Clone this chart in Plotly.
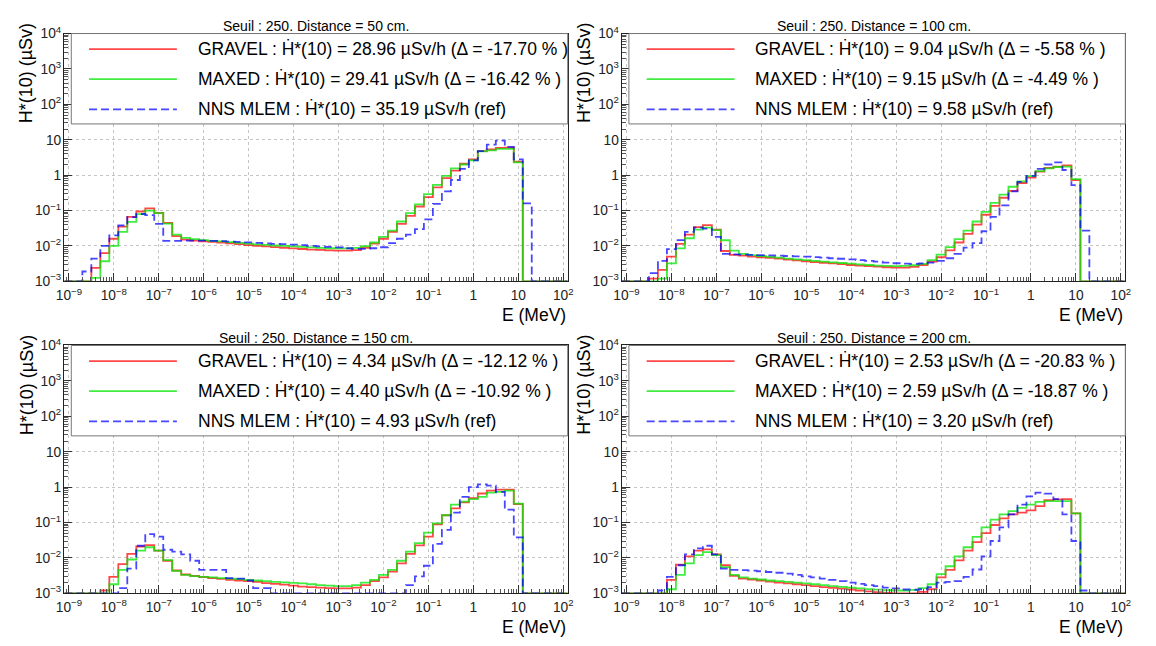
import numpy as np
import plotly.graph_objects as go

# the page body has an 8px margin, so the figure is 8px smaller and every
# position below is given in window pixels, then shifted by that margin
PAGE_W, PAGE_H = 1156, 646
OFF = 8
W, H = PAGE_W - OFF, PAGE_H - OFF

# energy binning: 56 log bins, 5 per decade, centred on 1e-9 ... 1e2 MeV
bin_edges = 10 ** (-9.1 + 0.2 * np.arange(57))

distances = [50, 100, 150, 200]

# H*(10) per bin (uSv), 0 = empty bin
gravel_50 = [0, 0, 0, 2.4e-3, 6.3e-3, 1.6e-2, 3.5e-2, 6.6e-2, 9.4e-2, 1.15e-1,
             8.6e-2, 4.5e-2, 1.9e-2, 1.5e-2, 1.42e-2, 1.36e-2, 1.3e-2, 1.24e-2, 1.18e-2, 1.12e-2,
             1.06e-2, 1.01e-2, 9.7e-3, 9.3e-3, 8.9e-3, 8.5e-3, 8.2e-3, 7.9e-3, 7.7e-3, 7.5e-3,
             7.4e-3, 7.4e-3, 7.6e-3, 8.9e-3, 1.17e-2, 1.6e-2, 2.5e-2, 4.2e-2, 7.1e-2, 0.13,
             0.24, 0.45, 0.82, 1.35, 2.1, 2.8, 4.8, 5.3, 5.9, 6.0,
             2.4, 0, 0, 0, 0, 0]
maxed_50 = [0, 0, 0, 1.25e-3, 3.7e-3, 1.0e-2, 2.5e-2, 4.8e-2, 7.9e-2, 1.0e-1,
            8.5e-2, 4.3e-2, 2.1e-2, 1.7e-2, 1.55e-2, 1.47e-2, 1.4e-2, 1.34e-2, 1.28e-2, 1.22e-2,
            1.16e-2, 1.11e-2, 1.07e-2, 1.03e-2, 1.0e-2, 9.7e-3, 9.4e-3, 9.1e-3, 8.8e-3, 8.6e-3,
            8.5e-3, 8.5e-3, 8.8e-3, 9.8e-3, 1.25e-2, 1.8e-2, 2.7e-2, 4.9e-2, 8.5e-2, 0.15,
            0.29, 0.53, 0.95, 1.56, 2.0, 2.6, 4.7, 5.0, 5.5, 5.5,
            2.3, 0, 0, 0, 0, 0]
nns_50 = [0, 0, 1.9e-3, 4.4e-3, 1.0e-2, 2.0e-2, 3.8e-2, 6.5e-2, 8.0e-2, 7.4e-2,
          4.2e-2, 1.4e-2, 1.4e-2, 1.42e-2, 1.42e-2, 1.42e-2, 1.4e-2, 1.37e-2, 1.33e-2, 1.3e-2,
          1.26e-2, 1.22e-2, 1.19e-2, 1.15e-2, 1.12e-2, 1.09e-2, 1.05e-2, 1.01e-2, 9.7e-3, 9.4e-3,
          9.1e-3, 8.6e-3, 8.3e-3, 8.3e-3, 8.6e-3, 9.2e-3, 1.2e-2, 1.6e-2, 2.1e-2, 3.0e-2,
          5.6e-2, 0.155, 0.35, 0.73, 1.5, 2.6, 4.8, 7.3, 9.4, 6.3,
          2.8, 0.16, 0, 0, 0, 0]

gravel_100 = [0, 0, 0, 1.2e-3, 2.1e-3, 5.0e-3, 1.15e-2, 2.1e-2, 3.4e-2, 3.9e-2,
              2.9e-2, 7.2e-3, 5.6e-3, 5.3e-3, 5.0e-3, 4.8e-3, 4.6e-3, 4.4e-3, 4.1e-3, 3.9e-3,
              3.7e-3, 3.5e-3, 3.35e-3, 3.2e-3, 3.05e-3, 2.9e-3, 2.8e-3, 2.7e-3, 2.6e-3, 2.5e-3,
              2.45e-3, 2.45e-3, 2.55e-3, 2.9e-3, 3.6e-3, 4.8e-3, 7.5e-3, 1.25e-2, 2.2e-2, 4.0e-2,
              7.6e-2, 0.135, 0.23, 0.36, 0.6, 0.85, 1.25, 1.6, 1.75, 1.9,
              0.72, 0, 0, 0, 0, 0]
maxed_100 = [0, 0, 0, 0, 1.2e-3, 3.2e-3, 8.5e-3, 1.65e-2, 2.9e-2, 3.3e-2,
             2.8e-2, 1.45e-2, 7.4e-3, 6.0e-3, 5.5e-3, 5.2e-3, 4.9e-3, 4.7e-3, 4.4e-3, 4.2e-3,
             4.0e-3, 3.8e-3, 3.6e-3, 3.45e-3, 3.3e-3, 3.15e-3, 3.0e-3, 2.9e-3, 2.8e-3, 2.75e-3,
             2.7e-3, 2.75e-3, 2.85e-3, 3.1e-3, 4.0e-3, 5.7e-3, 9.3e-3, 1.55e-2, 2.7e-2, 4.9e-2,
             9.2e-2, 0.165, 0.28, 0.47, 0.67, 0.94, 1.3, 1.55, 1.7, 1.75,
             0.77, 0, 0, 0, 0, 0]
nns_100 = [0, 0, 0, 1.7e-3, 3.8e-3, 8.1e-3, 1.47e-2, 2.5e-2, 3.3e-2, 3.1e-2,
           1.8e-2, 6.0e-3, 5.8e-3, 5.7e-3, 5.6e-3, 5.5e-3, 5.4e-3, 5.3e-3, 5.2e-3, 5.1e-3,
           5.0e-3, 4.85e-3, 4.7e-3, 4.5e-3, 4.35e-3, 4.2e-3, 4.0e-3, 3.8e-3, 3.6e-3, 3.4e-3,
           3.25e-3, 3.15e-3, 3.1e-3, 3.2e-3, 3.4e-3, 3.8e-3, 4.5e-3, 6.0e-3, 9.0e-3, 1.2e-2,
           2.6e-2, 6.6e-2, 0.14, 0.35, 0.65, 0.95, 1.5, 2.0, 2.3, 1.4,
           0.52, 2.7e-2, 0, 0, 0, 0]

gravel_150 = [0, 0, 0, 0, 1.2e-3, 2.9e-3, 6.7e-3, 1.3e-2, 2.1e-2, 2.3e-2,
              1.6e-2, 8.3e-3, 4.4e-3, 3.4e-3, 3.1e-3, 2.85e-3, 2.7e-3, 2.55e-3, 2.4e-3, 2.3e-3,
              2.2e-3, 2.1e-3, 1.95e-3, 1.85e-3, 1.75e-3, 1.65e-3, 1.55e-3, 1.5e-3, 1.45e-3, 1.4e-3,
              1.37e-3, 1.37e-3, 1.45e-3, 1.7e-3, 2.2e-3, 2.8e-3, 4.1e-3, 7.0e-3, 1.3e-2, 2.25e-2,
              4.0e-2, 8.9e-2, 0.16, 0.25, 0.37, 0.49, 0.66, 0.79, 0.85, 0.85,
              0.33, 0, 0, 0, 0, 0]
maxed_150 = [0, 0, 0, 0, 0, 1.8e-3, 4.6e-3, 9.0e-3, 1.6e-2, 2.0e-2,
             1.6e-2, 8.6e-3, 4.3e-3, 3.3e-3, 3.05e-3, 2.9e-3, 2.8e-3, 2.7e-3, 2.6e-3, 2.5e-3,
             2.4e-3, 2.3e-3, 2.2e-3, 2.1e-3, 2.03e-3, 1.97e-3, 1.9e-3, 1.8e-3, 1.7e-3, 1.65e-3,
             1.6e-3, 1.6e-3, 1.7e-3, 2.0e-3, 2.4e-3, 3.3e-3, 4.6e-3, 8.3e-3, 1.5e-2, 2.6e-2,
             5.2e-2, 9.5e-2, 0.16, 0.32, 0.39, 0.46, 0.53, 0.7, 0.73, 0.79,
             0.34, 0, 0, 0, 0, 0]
nns_150 = [0, 0, 0, 0, 0, 0, 1.4e-3, 5.0e-3, 2.2e-2, 4.7e-2,
           4.0e-2, 1.7e-2, 1.5e-2, 1.25e-2, 8.3e-3, 4.6e-3, 4.6e-3, 4.6e-3, 2.7e-3, 2.6e-3,
           2.3e-3, 1.4e-3, 1.4e-3, 0, 0, 0, 0, 0, 0, 0,
           0, 0, 0, 0, 0, 0, 0, 0, 1.7e-3, 3.0e-3,
           6.0e-3, 2.5e-2, 6.2e-2, 0.19, 0.53, 1.0, 1.2, 1.1, 0.73, 0.23,
           3.8e-2, 0, 0, 0, 0, 0]

gravel_200 = [0, 0, 0, 0, 0, 2.4e-3, 6.4e-3, 1.1e-2, 1.6e-2, 1.75e-2,
              1.26e-2, 6.2e-3, 3.1e-3, 2.6e-3, 2.45e-3, 2.3e-3, 2.15e-3, 2.0e-3, 1.9e-3, 1.8e-3,
              1.7e-3, 1.6e-3, 1.5e-3, 1.42e-3, 1.35e-3, 1.28e-3, 1.2e-3, 1.13e-3, 1.07e-3, 1.02e-3,
              0, 0, 0, 1.1e-3, 1.3e-3, 2.8e-3, 4.6e-3, 8.5e-3, 1.6e-2, 2.8e-2,
              5.0e-2, 8.5e-2, 0.13, 0.17, 0.19, 0.22, 0.29, 0.43, 0.45, 0.46,
              0.18, 0, 0, 0, 0, 0]
maxed_200 = [0, 0, 0, 0, 0, 1.3e-3, 3.3e-3, 7.0e-3, 1.2e-2, 1.45e-2,
             1.2e-2, 5.5e-3, 3.3e-3, 2.8e-3, 2.6e-3, 2.45e-3, 2.3e-3, 2.2e-3, 2.1e-3, 2.0e-3,
             1.9e-3, 1.8e-3, 1.7e-3, 1.6e-3, 1.52e-3, 1.45e-3, 1.38e-3, 1.32e-3, 1.27e-3, 1.22e-3,
             1.2e-3, 1.2e-3, 1.25e-3, 1.4e-3, 1.8e-3, 3.5e-3, 5.8e-3, 1.1e-2, 2.0e-2, 3.9e-2,
             7.3e-2, 0.12, 0.17, 0.21, 0.26, 0.32, 0.38, 0.4, 0.4, 0.4,
             0.18, 0, 0, 0, 0, 0]
nns_200 = [0, 0, 0, 0, 1.2e-3, 2.9e-3, 6.2e-3, 1.26e-2, 1.86e-2, 2.2e-2,
           1.26e-2, 5.0e-3, 4.6e-3, 4.5e-3, 4.35e-3, 4.2e-3, 4.0e-3, 3.8e-3, 3.6e-3, 3.3e-3,
           3.0e-3, 2.8e-3, 2.6e-3, 2.4e-3, 2.2e-3, 2.0e-3, 1.85e-3, 1.7e-3, 1.6e-3, 1.45e-3,
           1.37e-3, 1.28e-3, 1.26e-3, 1.3e-3, 1.5e-3, 2.0e-3, 2.1e-3, 2.2e-3, 2.9e-3, 4.7e-3,
           1.1e-2, 3.0e-2, 7.3e-2, 0.17, 0.32, 0.55, 0.7, 0.65, 0.46, 0.17,
           3.0e-2, 1.2e-3, 0, 0, 0, 0]

spectra = {
    50: (gravel_50, maxed_50, nns_50),
    100: (gravel_100, maxed_100, nns_100),
    150: (gravel_150, maxed_150, nns_150),
    200: (gravel_200, maxed_200, nns_200),
}

# integrated dose rates (uSv/h) and deviation to the NNS MLEM reference (%)
h_gravel = [28.96, 9.04, 4.34, 2.53]
h_maxed = [29.41, 9.15, 4.40, 2.59]
h_nns = [35.19, 9.58, 4.93, 3.20]
delta_gravel = [-17.70, -5.58, -12.12, -20.83]
delta_maxed = [-16.42, -4.49, -10.92, -18.87]

FONT = "Liberation Sans, Arial, DejaVu Sans, sans-serif"
colors = ["rgba(255,0,0,0.72)", "rgba(0,230,0,0.75)", "rgba(0,0,255,0.72)"]
dashes = ["solid", "solid", "8px,4px"]

# frame boxes in window pixels
col_left = [56, 621]
row_top = [24, 345]
FW, FH = 510, 255


def px(x):
    return (x - OFF) / W


def py(y):
    return 1 - (y - OFF) / H


fig = go.Figure()
shapes, annotations = [], []

for i, dist in enumerate(distances):
    left = col_left[i % 2]
    top = row_top[i // 2]
    n = "" if i == 0 else str(i + 1)
    xa, ya = "x" + n, "y" + n

    for vals, c, d in zip(spectra[dist], colors, dashes):
        y = np.maximum(np.array(vals + [vals[-1]]), 1e-3)
        fig.add_trace(go.Scatter(
            x=bin_edges, y=y, mode="lines",
            line=dict(shape="hv", color=c, width=1.8, dash=d),
            xaxis=xa, yaxis=ya, showlegend=False, hoverinfo="skip",
        ))

    axis_common = dict(
        type="log", dtick=1, exponentformat="power",
        showgrid=True, gridcolor="#c4c4c4", griddash="dot", gridwidth=1,
        ticks="inside", ticklen=8, tickcolor="#333", tickwidth=1,
        minor=dict(ticks="inside", ticklen=4, tickcolor="#555", showgrid=False),
        showline=True, linecolor="#222", linewidth=1, mirror=True,
        tickfont=dict(family=FONT, size=11, color="#222"),
        zeroline=False,
    )
    fig.update_layout({
        "xaxis" + n: dict(axis_common, domain=[px(left), px(left + FW)],
                          anchor=ya, range=[-9.1, 2.1], ticklabelstandoff=2),
        "yaxis" + n: dict(axis_common, domain=[py(top + FH), py(top)],
                          anchor=xa, range=[-3, 4]),
    })

    # legend box
    shapes.append(dict(type="rect", xref="paper", yref="paper", layer="above",
                       x0=px(left + 7), x1=px(left + FW), y0=py(top + 93), y1=py(top),
                       line=dict(color="#777", width=1), fillcolor="white"))
    labels = [
        f"GRAVEL : Ḣ*(10) = {h_gravel[i]:.2f} µSv/h (Δ = {delta_gravel[i]:.2f} % )",
        f"MAXED : Ḣ*(10) = {h_maxed[i]:.2f} µSv/h (Δ = {delta_maxed[i]:.2f} % )",
        f"NNS MLEM : Ḣ*(10) = {h_nns[i]:.2f} µSv/h (ref)",
    ]
    for j, (lab, c, d) in enumerate(zip(labels, colors, dashes)):
        yy = top + 16 + 31 * j
        shapes.append(dict(type="line", xref="paper", yref="paper", layer="above",
                           x0=px(left + 25), x1=px(left + 114), y0=py(yy), y1=py(yy),
                           line=dict(color=c, width=1.8, dash=d)))
        annotations.append(dict(text=lab, xref="paper", yref="paper",
                                x=px(left + 133), y=py(yy), xanchor="left", yanchor="middle",
                                showarrow=False, font=dict(family=FONT, size=17.5, color="black")))

    annotations.append(dict(text=f"Seuil : 250. Distance = {dist} cm.", xref="paper", yref="paper",
                            x=px(left + FW / 2), y=py(top - 8), xanchor="center", yanchor="middle",
                            showarrow=False, font=dict(family=FONT, size=14, color="black")))
    annotations.append(dict(text="H*(10) (µSv)", xref="paper", yref="paper", textangle=-90,
                            x=px(left - 38.5), y=py(top - 13), xanchor="center", yanchor="top",
                            showarrow=False, font=dict(family=FONT, size=18, color="black")))
    annotations.append(dict(text="E (MeV)", xref="paper", yref="paper",
                            x=px(left + FW), y=py(top + 290), xanchor="right", yanchor="middle",
                            showarrow=False, font=dict(family=FONT, size=17.5, color="black")))

fig.update_layout(
    width=W, height=H, margin=dict(l=0, r=0, t=0, b=0),
    paper_bgcolor="white", plot_bgcolor="white",
    shapes=shapes, annotations=annotations,
    font=dict(family=FONT),
)

fig.write_html("out.html")
